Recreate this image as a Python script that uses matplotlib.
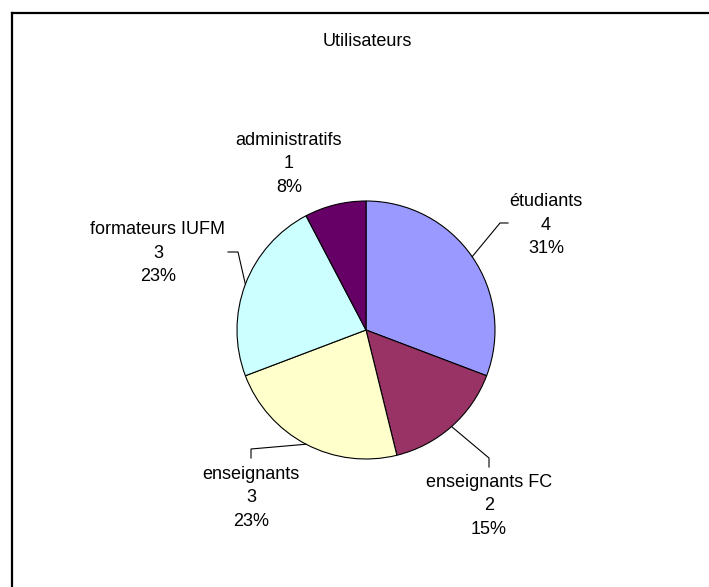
import matplotlib.pyplot as plt
import numpy as np

plt.rcParams['font.family'] = ['Liberation Sans', 'DejaVu Sans']

# data
categories = ['étudiants', 'enseignants FC', 'enseignants', 'formateurs IUFM', 'administratifs']
values = [4, 2, 3, 3, 1]
colors = ['#9999FF', '#993366', '#FFFFCC', '#CCFFFF', '#660066']

W, H = 709, 587
fig = plt.figure(figsize=(W / 100, H / 100), dpi=100)
ax = fig.add_axes([0, 0, 1, 1])

# frame (only top and left edges visible in the original)
ax.plot([12, 12], [0, H - 13], color='black', lw=1.6, solid_capstyle='projecting')
ax.plot([12, W], [H - 13, H - 13], color='black', lw=1.6, solid_capstyle='projecting')

ax.text(367, H - 42, 'Utilisateurs', ha='center', va='center', fontsize=13)

cx, cy, r = 366, H - 330, 129
wedges, _ = ax.pie(values, colors=colors, startangle=90, counterclock=False,
                   center=(cx, cy), radius=r, frame=True,
                   wedgeprops=dict(edgecolor='black', linewidth=0.8))
ax.set_xlim(0, W)
ax.set_ylim(0, H)
ax.set_aspect('equal')
ax.axis('off')

total = sum(values)
# label placement: text centre (image px), leader elbow, leader end
layout = [
    ((546, 225), (500, 223), (508, 223)),
    ((489, 506), (489, 458), (489, 467)),
    ((251, 498), (251, 449), (251, 458)),
    ((158, 253), (238, 252), (228, 252)),
    ((289, 164), None, None),
]

for w, name, v, (txt, elbow, end) in zip(wedges, categories, values, layout):
    mid = np.deg2rad((w.theta1 + w.theta2) / 2)
    px, py = cx + r * np.cos(mid), cy + r * np.sin(mid)
    if elbow is not None:
        ax.plot([px, elbow[0], end[0]], [py, H - elbow[1], H - end[1]],
                color='black', lw=0.8)
    pct = round(v / total * 100)
    ax.text(txt[0], H - txt[1], f'{name}\n{v}\n{pct}%', ha='center', va='center',
            fontsize=13, linespacing=1.53)

fig.savefig('out.png', dpi=100)
